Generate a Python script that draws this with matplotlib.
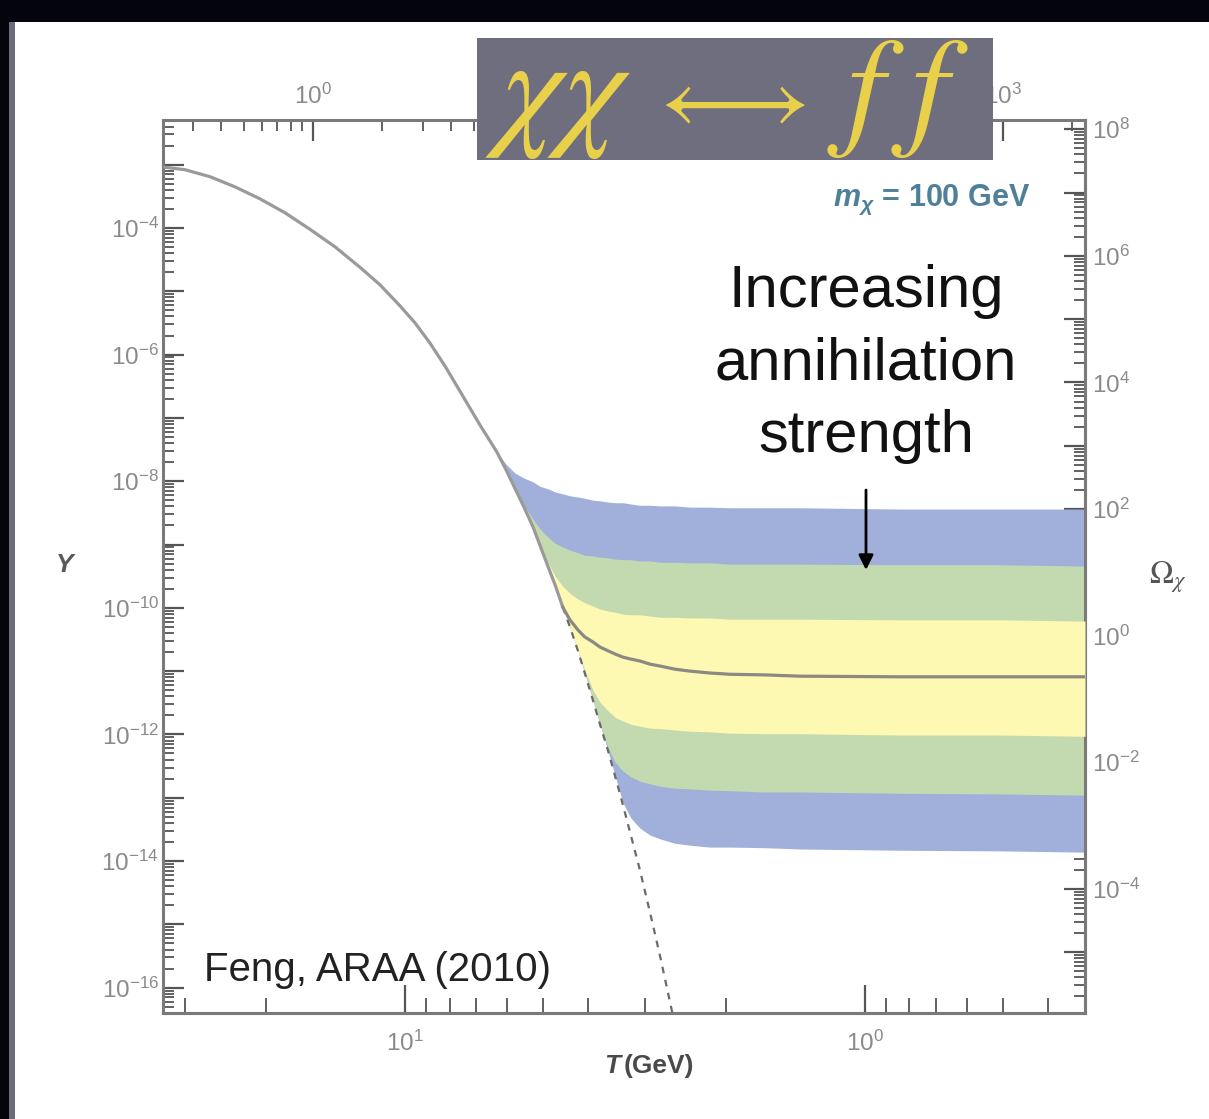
import numpy as np
import matplotlib
matplotlib.use('Agg')
import matplotlib.pyplot as plt
from matplotlib.patches import Rectangle
from matplotlib.ticker import FuncFormatter, NullFormatter, FixedLocator

plt.rcParams['font.family'] = ['Liberation Sans', 'DejaVu Sans']
plt.rcParams['mathtext.fontset'] = 'custom'
plt.rcParams['mathtext.rm'] = 'Liberation Sans'
plt.rcParams['mathtext.it'] = 'Liberation Sans:italic:bold'
plt.rcParams['mathtext.bf'] = 'Liberation Sans:bold'

# ---------------- data (x = m/T on the top axis, values as log10 Y) ----------------
x_eq = [0.227, 0.278, 0.357, 0.458, 0.589, 0.756, 0.970, 1.25, 1.60, 1.96, 2.39, 2.78,
        3.23, 3.75, 4.36, 5.32,
        6.31, 6.91, 7.55, 8.27, 9.05, 9.70, 10.5, 11.3, 12.2, 13.1, 14.2, 15.2, 16.5,
        17.7, 19.2, 20.6, 22.3, 24.1, 26.4, 29.2, 32.3, 37.5]
logY_eq = [-3.04, -3.08, -3.19, -3.35, -3.54, -3.76, -4.02, -4.30, -4.62, -4.90, -5.23,
           -5.50, -5.82, -6.18, -6.58, -7.11,
           -7.54, -7.82, -8.11, -8.41, -8.72, -9.01, -9.34, -9.64, -9.99, -10.30, -10.68,
           -11.03, -11.46, -11.84, -12.26, -12.66, -13.12, -13.59, -14.14, -14.81,
           -15.50, -16.59]

x_band = [6.31, 6.91, 7.55, 8.27, 9.05, 9.70, 10.5, 11.3, 12.2, 13.1, 14.2, 15.2, 16.5,
          17.7, 19.2, 20.6, 22.3, 24.1, 26.4, 29.2, 32.3, 37.5, 43.6, 53.2, 65.0, 92.3,
          131, 356, 970, 2275]
logY_b1 = [-7.54, -7.73, -7.87, -7.95, -8.01, -8.08, -8.12, -8.17, -8.20, -8.23, -8.25,
           -8.27, -8.30, -8.31, -8.33, -8.34, -8.34, -8.36, -8.38, -8.38, -8.39, -8.39,
           -8.41, -8.41, -8.42, -8.42, -8.42, -8.44, -8.44, -8.44]
logY_b2 = [-7.54, -7.82, -8.11, -8.38, -8.60, -8.75, -8.88, -8.98, -9.04, -9.09, -9.13,
           -9.17, -9.18, -9.20, -9.21, -9.23, -9.24, -9.24, -9.26, -9.26, -9.28, -9.28,
           -9.29, -9.29, -9.31, -9.31, -9.31, -9.32, -9.32, -9.34]
logY_b3 = [-7.54, -7.82, -8.11, -8.41, -8.72, -9.01, -9.28, -9.50, -9.66, -9.77, -9.86,
           -9.92, -9.97, -10.02, -10.05, -10.07, -10.10, -10.11, -10.11, -10.13, -10.15,
           -10.15, -10.16, -10.16, -10.18, -10.18, -10.18, -10.19, -10.19, -10.21]
logY_c = [-7.54, -7.82, -8.11, -8.41, -8.72, -9.01, -9.34, -9.64, -9.99, -10.19, -10.35,
          -10.46, -10.54, -10.62, -10.68, -10.73, -10.78, -10.81, -10.84, -10.89, -10.92,
          -10.97, -11.00, -11.03, -11.05, -11.06, -11.08, -11.09, -11.09, -11.09]
logY_b4 = [-7.54, -7.82, -8.11, -8.41, -8.72, -9.01, -9.34, -9.64, -9.99, -10.30, -10.68,
           -10.98, -11.30, -11.49, -11.63, -11.73, -11.79, -11.84, -11.87, -11.90, -11.91,
           -11.93, -11.95, -11.96, -11.98, -11.99, -11.99, -12.01, -12.01, -12.03]
logY_b5 = [-7.54, -7.82, -8.11, -8.41, -8.72, -9.01, -9.34, -9.64, -9.99, -10.30, -10.68,
           -11.03, -11.46, -11.84, -12.21, -12.44, -12.58, -12.67, -12.74, -12.78, -12.82,
           -12.85, -12.86, -12.88, -12.89, -12.91, -12.91, -12.93, -12.94, -12.96]
logY_b6 = [-7.54, -7.82, -8.11, -8.41, -8.72, -9.01, -9.34, -9.64, -9.99, -10.30, -10.68,
           -11.03, -11.46, -11.84, -12.26, -12.66, -13.08, -13.32, -13.48, -13.59, -13.65,
           -13.72, -13.75, -13.78, -13.78, -13.79, -13.81, -13.83, -13.84, -13.86]

# axis ticks
y_major_exp = list(range(-16, -2))          # Y: 10^-16 ... 10^-3
omega_major_exp = list(range(-5, 9))        # Omega: 10^-5 ... 10^8
top_major_exp = [0, 1, 2, 3]                # m/T
top_labelled = [0, 3]                       # 10^1, 10^2 are hidden under the title box
T_major_exp = [1, 0]                        # T (GeV)

omega_over_Y_log = 10.44      # Omega = Y * 10**10.44
T_scale_log = 1.2             # T = 10**1.2 / sqrt(x)
xlim_log = (-0.652, 3.357)
ylim_log = (-16.401, -2.294)

# ---------------- figure ----------------
W, H = 1209, 1119
fig = plt.figure(figsize=(W / 100, H / 100), dpi=100, facecolor='#04040c')

def fx(px):
    return px / W

def fy(py):
    return 1 - py / H

fig.patches.append(Rectangle((fx(15), 0), 1 - fx(15), fy(22), transform=fig.transFigure,
                             facecolor='white', edgecolor='none', zorder=-2))
fig.patches.append(Rectangle((fx(9), 0), fx(6), fy(22), transform=fig.transFigure,
                             facecolor='#6c6c7c', edgecolor='none', zorder=-2))

ax = fig.add_axes([fx(163), fy(1013), fx(1085) - fx(163), fy(120) - fy(1013)])
ax.set_facecolor('white')
ax.set_xscale('log')
ax.set_yscale('log')

xe = np.array(x_eq)
ye = 10.0 ** np.array(logY_eq)
xb = np.array(x_band)
b1, b2, b3, c, b4, b5, b6 = [10.0 ** np.array(v) for v in
                             (logY_b1, logY_b2, logY_b3, logY_c, logY_b4, logY_b5, logY_b6)]

blue, green, yellow = '#a0b0da', '#c3d9af', '#fdf8b2'
ax.fill_between(xb, b6, b1, color=blue, lw=0, zorder=1)
ax.fill_between(xb, b5, b2, color=green, lw=0, zorder=2)
ax.fill_between(xb, b4, b3, color=yellow, lw=0, zorder=3)

ax.plot(xe[:25], ye[:25], color='#9a9a9a', lw=2.3, zorder=4, solid_capstyle='round')
ax.plot(xe[24:], ye[24:], color='#6a6a6a', lw=1.6, ls=(0, (3, 3)), zorder=4)
ax.plot(xb[8:], c[8:], color='#8a8a82', lw=2.3, zorder=4)

ax.set_xlim(10 ** xlim_log[0], 10 ** xlim_log[1])
ax.set_ylim(10 ** ylim_log[0], 10 ** ylim_log[1])

spine_c = '#7a7a7a'
for s in ax.spines.values():
    s.set_color(spine_c)
    s.set_linewidth(2.2)

def minor_ticks(lo_log, hi_log):
    lo, hi = min(lo_log, hi_log), max(lo_log, hi_log)
    out = []
    for e in range(int(np.floor(lo)) - 1, int(np.ceil(hi)) + 1):
        for s in range(2, 10):
            v = np.log10(s) + e
            if lo <= v <= hi:
                out.append(s * 10.0 ** e)
    return out

def even_fmt(v, pos):
    e = int(round(np.log10(v)))
    return r'$10^{%d}$' % e if e % 2 == 0 else ''

def top_fmt(v, pos):
    e = int(round(np.log10(v)))
    return r'$10^{%d}$' % e if e in top_labelled else ''

def all_fmt(v, pos):
    e = int(round(np.log10(v)))
    return r'$10^{%d}$' % e

lab_c = '#8a8a8a'
tick_c = '#555555'
lab_size = 17.5

# left Y axis
ax.yaxis.set_major_locator(FixedLocator([10.0 ** e for e in y_major_exp]))
ax.yaxis.set_minor_locator(FixedLocator(minor_ticks(*ylim_log)))
ax.yaxis.set_major_formatter(FuncFormatter(even_fmt))
ax.yaxis.set_minor_formatter(NullFormatter())
ax.tick_params(axis='y', which='major', direction='in', length=15, width=1.6,
               color=tick_c, labelsize=lab_size, labelcolor=lab_c, pad=3, right=False)
ax.tick_params(axis='y', which='minor', direction='in', length=8, width=1.3,
               color=tick_c, right=False)

# top x axis (m/T)
ax.xaxis.set_major_locator(FixedLocator([10.0 ** e for e in top_major_exp]))
ax.xaxis.set_minor_locator(FixedLocator(minor_ticks(*xlim_log)))
ax.xaxis.set_major_formatter(FuncFormatter(top_fmt))
ax.xaxis.set_minor_formatter(NullFormatter())
ax.tick_params(axis='x', which='both', top=True, bottom=False, labeltop=True,
               labelbottom=False, direction='in', color=tick_c, labelcolor=lab_c)
ax.tick_params(axis='x', which='major', length=15, width=1.6, labelsize=lab_size, pad=8)
ax.tick_params(axis='x', which='minor', length=8, width=1.3)

# bottom T axis
def x2T(x):
    x = np.maximum(np.asarray(x, dtype=float), 1e-300)
    return 10 ** T_scale_log / np.sqrt(x)

def T2x(T):
    T = np.maximum(np.asarray(T, dtype=float), 1e-300)
    return (10 ** T_scale_log / T) ** 2

Tlim_log = (T_scale_log - 0.5 * xlim_log[0], T_scale_log - 0.5 * xlim_log[1])
sec = ax.secondary_xaxis('bottom', functions=(x2T, T2x))
sec.xaxis.set_major_locator(FixedLocator([10.0 ** e for e in T_major_exp]))
sec.xaxis.set_minor_locator(FixedLocator(minor_ticks(*Tlim_log)))
sec.xaxis.set_major_formatter(FuncFormatter(all_fmt))
sec.xaxis.set_minor_formatter(NullFormatter())
sec.tick_params(axis='x', which='major', direction='in', length=20, width=1.6,
                color=tick_c, labelsize=lab_size, labelcolor=lab_c, pad=13)
sec.tick_params(axis='x', which='minor', direction='in', length=11, width=1.3, color=tick_c)
sec.spines['bottom'].set_color(spine_c)
sec.spines['bottom'].set_linewidth(2.2)

# right Omega axis
def y2om(y):
    return np.asarray(y, dtype=float) * 10 ** omega_over_Y_log

def om2y(o):
    return np.asarray(o, dtype=float) / 10 ** omega_over_Y_log

omlim_log = (ylim_log[0] + omega_over_Y_log, ylim_log[1] + omega_over_Y_log)
secy = ax.secondary_yaxis('right', functions=(y2om, om2y))
secy.yaxis.set_major_locator(FixedLocator([10.0 ** e for e in omega_major_exp]))
secy.yaxis.set_minor_locator(FixedLocator(minor_ticks(*omlim_log)))
secy.yaxis.set_major_formatter(FuncFormatter(even_fmt))
secy.yaxis.set_minor_formatter(NullFormatter())
secy.tick_params(axis='y', which='major', direction='in', length=15, width=1.6,
                 color=tick_c, labelsize=lab_size, labelcolor=lab_c, pad=5)
secy.tick_params(axis='y', which='minor', direction='in', length=8, width=1.3, color=tick_c)
secy.spines['right'].set_color(spine_c)
secy.spines['right'].set_linewidth(2.2)

# axis labels
fig.text(fx(620), fy(1066), 'T', style='italic', weight='bold', fontsize=19,
         color='#4a4a4a', ha='right', va='center')
fig.text(fx(624), fy(1066), '(GeV)', weight='bold', fontsize=19,
         color='#4a4a4a', ha='left', va='center')
fig.text(fx(65), fy(565), 'Y', style='italic', weight='bold', fontsize=19,
         color='#5a5a5a', ha='center', va='center')
fig.text(fx(1168), fy(577), r'$\Omega_\chi$', fontsize=23, color='#555555',
         ha='center', va='center', math_fontfamily='stix')

# annotations
fig.text(fx(1030), fy(200), r'$m_\chi$ = 100 GeV', weight='bold', fontsize=22,
         color='#4f7f99', ha='right', va='center')
fig.text(fx(866), fy(364), 'Increasing\nannihilation\nstrength', fontsize=43,
         color='#111111', ha='center', va='center', linespacing=1.4)
ax.annotate('', xy=(fx(866), fy(570)), xytext=(fx(866), fy(490)),
            xycoords='figure fraction', textcoords='figure fraction',
            arrowprops=dict(arrowstyle='-|>', color='black', lw=2,
                            mutation_scale=22, shrinkA=0, shrinkB=0))
fig.text(fx(204), fy(970), 'Feng, ARAA (2010)', fontsize=29, color='#222222',
         ha='left', va='center')

# title box
fig.patches.append(Rectangle((fx(477), fy(160)), fx(993) - fx(477), fy(38) - fy(160),
                             transform=fig.transFigure, facecolor='#6e6e7e',
                             edgecolor='none', zorder=5))
gold = '#e9d04a'
fig.text(fx(558), fy(98), r'$\chi\chi$', fontsize=98, color=gold, ha='center',
         va='center', math_fontfamily='stix', zorder=6)
fig.text(fx(727), fy(103), r'$\longleftrightarrow$', fontsize=68, color=gold,
         ha='center', va='center', math_fontfamily='stix', zorder=6)
fig.text(fx(898), fy(98), r'$f\;f$', fontsize=96, color=gold, ha='center',
         va='center', math_fontfamily='stix', zorder=6)

fig.savefig('out.png', dpi=100, facecolor=fig.get_facecolor())
